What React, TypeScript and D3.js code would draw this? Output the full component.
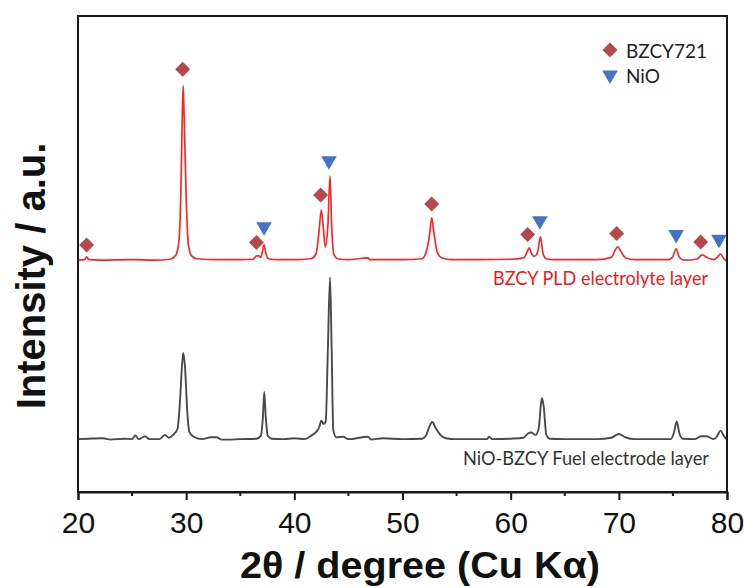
import React, { useEffect, useRef } from "react";
import * as d3 from "d3";

// 2θ (deg), intensity (a.u., offset already applied)
const pldPattern: [number, number][] = [
  [20.0, 48.7], [20.6, 48.8], [20.8, 49.4], [21.0, 48.8], [22.0, 48.7], [25.0, 48.8],
  [27.0, 48.7], [28.5, 48.9], [29.0, 49.6], [29.3, 52], [29.5, 62], [29.65, 80],
  [29.72, 85.3], [29.8, 80], [30.0, 62], [30.2, 52], [30.5, 49.6], [31.0, 49],
  [33.0, 48.8], [35.0, 48.8], [36.2, 48.9], [36.5, 49.6], [36.7, 49.6], [36.9, 49.3],
  [37.05, 50.5], [37.2, 51.9], [37.35, 50.3], [37.6, 49], [38.5, 48.8], [40.0, 48.8],
  [41.5, 49], [42.0, 50], [42.25, 54], [42.5, 59.3], [42.7, 55], [42.85, 51.5],
  [43.1, 56], [43.3, 66.4], [43.45, 56], [43.65, 50], [44.0, 49], [45.0, 48.8],
  [46.8, 49.2], [47.0, 48.8], [50.0, 48.8], [51.8, 49], [52.2, 50.5], [52.5, 54],
  [52.7, 57.6], [52.9, 54.5], [53.2, 50.5], [53.6, 49.2], [54.5, 48.8], [57.0, 48.8],
  [60.0, 48.9], [61.2, 49.2], [61.5, 50.3], [61.7, 51.3], [61.95, 50], [62.2, 49.5],
  [62.5, 50.5], [62.75, 53.6], [63.0, 50], [63.3, 49], [64.0, 48.8], [68.0, 48.8],
  [69.3, 49.3], [69.7, 51], [69.9, 51.5], [70.2, 50.5], [70.6, 49.2], [71.5, 48.8],
  [74.6, 48.8], [75.0, 49.5], [75.3, 51.1], [75.6, 49.3], [76.0, 48.7], [77.2, 48.9],
  [77.7, 49.8], [78.2, 49.2], [78.8, 48.8], [79.1, 49.3], [79.4, 50], [79.7, 49],
  [80.0, 48.5],
];

const fuelPattern: [number, number][] = [
  [20.0, 11.1], [21.0, 11.2], [22.3, 11.3], [23.0, 11.0], [24.3, 11.2], [25.0, 11.1],
  [25.3, 11.9], [25.6, 11.1], [26.2, 11.7], [26.6, 11.1], [27.5, 11.1], [28.05, 12.0],
  [28.4, 11.4], [28.8, 12.0], [29.2, 13.3], [29.4, 18], [29.6, 26], [29.73, 29.2],
  [29.9, 26], [30.1, 17], [30.3, 12.6], [30.7, 11.6], [31.5, 11.1], [32.3, 11.5],
  [32.8, 11.5], [33.3, 11.0], [35.0, 11.1], [36.5, 11.2], [36.9, 11.8], [37.1, 16],
  [37.22, 21], [37.35, 16], [37.55, 11.8], [37.9, 11.2], [39.0, 11.1], [40.0, 11.3],
  [41.0, 11.1], [41.6, 11.9], [42.0, 12.6], [42.3, 13.6], [42.5, 15.0], [42.7, 14.3],
  [42.9, 14.8], [43.1, 30], [43.3, 45.1], [43.45, 30], [43.6, 13], [43.9, 11.5],
  [44.5, 11.6], [45.0, 11.1], [46.8, 11.6], [47.1, 11.0], [48.2, 11.3], [50.0, 11.1],
  [51.8, 11.2], [52.2, 12], [52.5, 13.8], [52.75, 14.7], [53.1, 13.3], [53.5, 12],
  [54.0, 11.3], [55.0, 11.1], [57.8, 11.1], [58.0, 11.6], [58.3, 11.1], [60.0, 11.2],
  [61.2, 11.4], [61.6, 12.3], [61.9, 12.5], [62.3, 12], [62.6, 13.5], [62.8, 18.5],
  [62.9, 19.7], [63.05, 18], [63.3, 12], [63.6, 11.2], [65.0, 11.1], [68.0, 11.1],
  [69.3, 11.4], [70.0, 12.2], [70.6, 11.5], [71.5, 11.1], [74.8, 11.1], [75.1, 12.5],
  [75.35, 14.8], [75.6, 12.3], [75.9, 11.2], [77.0, 11.1], [77.6, 11.7], [78.1, 11.7],
  [78.8, 11.1], [79.1, 11.8], [79.4, 12.9], [79.7, 11.8], [80.0, 11.0],
];

// phase markers placed above the PLD peaks
const bzcyMarks: [number, number][] = [
  [20.8, 51.9], [29.68, 88.8], [36.5, 52.4], [42.43, 62.4],
  [52.7, 60.5], [61.57, 54.1], [69.8, 54.3], [77.57, 52.5],
];
const nioMarks: [number, number][] = [
  [37.2, 55.7], [43.2, 69.6], [62.7, 57.0], [75.3, 54.1], [79.26, 53.1],
];

const majorTicks = [20, 30, 40, 50, 60, 70, 80];
const minorTicks = [25, 35, 45, 55, 65, 75];

const W = 744;
const H = 588;
const left = 78, right = 727, top = 16, bottom = 492;

export default function App() {
  const ref = useRef<SVGSVGElement>(null);

  useEffect(() => {
    const svg = d3.select(ref.current);
    svg.selectAll("*").remove();

    const x = d3.scaleLinear().domain([20, 80]).range([left, right]);
    const y = d3.scaleLinear().domain([0, 100]).range([bottom, top]);

    const line = d3.line<[number, number]>()
      .x(d => x(d[0]))
      .y(d => y(d[1]))
      .curve(d3.curveMonotoneX);

    svg.append("path")
      .datum(fuelPattern)
      .attr("d", line)
      .attr("fill", "none")
      .attr("stroke", "#4a4a4a")
      .attr("stroke-width", 1.9);

    svg.append("path")
      .datum(pldPattern)
      .attr("d", line)
      .attr("fill", "none")
      .attr("stroke", "#f42a2a")
      .attr("stroke-width", 1.7);

    const diamond = d3.symbol().type(d3.symbolSquare).size(112);
    const tri = d3.symbol().type(d3.symbolTriangle).size(105);

    svg.selectAll(".bz")
      .data(bzcyMarks)
      .enter()
      .append("path")
      .attr("d", diamond)
      .attr("transform", d => `translate(${x(d[0])},${y(d[1])}) rotate(45)`)
      .attr("fill", "#b5484a");

    svg.selectAll(".ni")
      .data(nioMarks)
      .enter()
      .append("path")
      .attr("d", tri)
      .attr("transform", d => `translate(${x(d[0])},${y(d[1])}) rotate(180)`)
      .attr("fill", "#4472c4");

    // legend
    svg.append("path").attr("d", diamond)
      .attr("transform", "translate(610,50) rotate(45)").attr("fill", "#b5484a");
    svg.append("path").attr("d", tri)
      .attr("transform", "translate(610,75) rotate(180)").attr("fill", "#4472c4");
    svg.append("text").attr("x", 626).attr("y", 58).text("BZCY721")
      .attr("font-family", "Lato, sans-serif").attr("font-size", 19).attr("fill", "#222");
    svg.append("text").attr("x", 626).attr("y", 83).text("NiO")
      .attr("font-family", "Lato, sans-serif").attr("font-size", 19).attr("fill", "#222");

    svg.append("text").attr("x", 493).attr("y", 285)
      .attr("textLength", 215).attr("lengthAdjust", "spacingAndGlyphs")
      .text("BZCY PLD electrolyte layer")
      .attr("font-family", "Lato, sans-serif").attr("font-size", 19).attr("fill", "#f01818");
    svg.append("text").attr("x", 463).attr("y", 465)
      .attr("textLength", 246).attr("lengthAdjust", "spacingAndGlyphs")
      .text("NiO-BZCY Fuel electrode layer")
      .attr("font-family", "Lato, sans-serif").attr("font-size", 19).attr("fill", "#333");

    // frame
    svg.append("rect")
      .attr("x", left).attr("y", top)
      .attr("width", right - left).attr("height", bottom - top)
      .attr("fill", "none").attr("stroke", "#1a1a1a").attr("stroke-width", 2);

    const xAxis = svg.append("g")
      .attr("transform", `translate(0,${bottom})`)
      .call(d3.axisBottom(x).tickValues(majorTicks).tickSize(8).tickPadding(12).tickFormat(d3.format("d")));
    xAxis.select(".domain").attr("stroke", "#1a1a1a").attr("stroke-width", 2);
    xAxis.selectAll(".tick line").attr("stroke", "#1a1a1a").attr("stroke-width", 2);
    xAxis.selectAll(".tick text")
      .attr("font-family", "'Liberation Sans', Arial, sans-serif")
      .attr("font-size", 30).attr("fill", "#111");

    svg.append("g")
      .attr("transform", `translate(0,${bottom})`)
      .selectAll("line")
      .data(minorTicks)
      .enter()
      .append("line")
      .attr("x1", d => x(d)).attr("x2", d => x(d))
      .attr("y1", 0).attr("y2", 4)
      .attr("stroke", "#1a1a1a").attr("stroke-width", 2);

    svg.append("text")
      .attr("x", 420).attr("y", 578)
      .attr("text-anchor", "middle")
      .attr("font-family", "'Liberation Sans', Arial, sans-serif")
      .attr("font-weight", "bold").attr("font-size", 37)
      .attr("textLength", 360).attr("lengthAdjust", "spacingAndGlyphs")
      .attr("fill", "#111")
      .text("2θ / degree (Cu Kα)");

    svg.append("text")
      .attr("transform", "translate(45,276) rotate(-90)")
      .attr("text-anchor", "middle")
      .attr("font-family", "'Liberation Sans', Arial, sans-serif")
      .attr("font-weight", "bold").attr("font-size", 40)
      .attr("fill", "#111")
      .text("Intensity / a.u.");
  }, []);

  return (
    <svg
      ref={ref}
      width={W}
      height={H}
      style={{ position: "absolute", left: 0, top: 0, background: "#fff" }}
    />
  );
}
